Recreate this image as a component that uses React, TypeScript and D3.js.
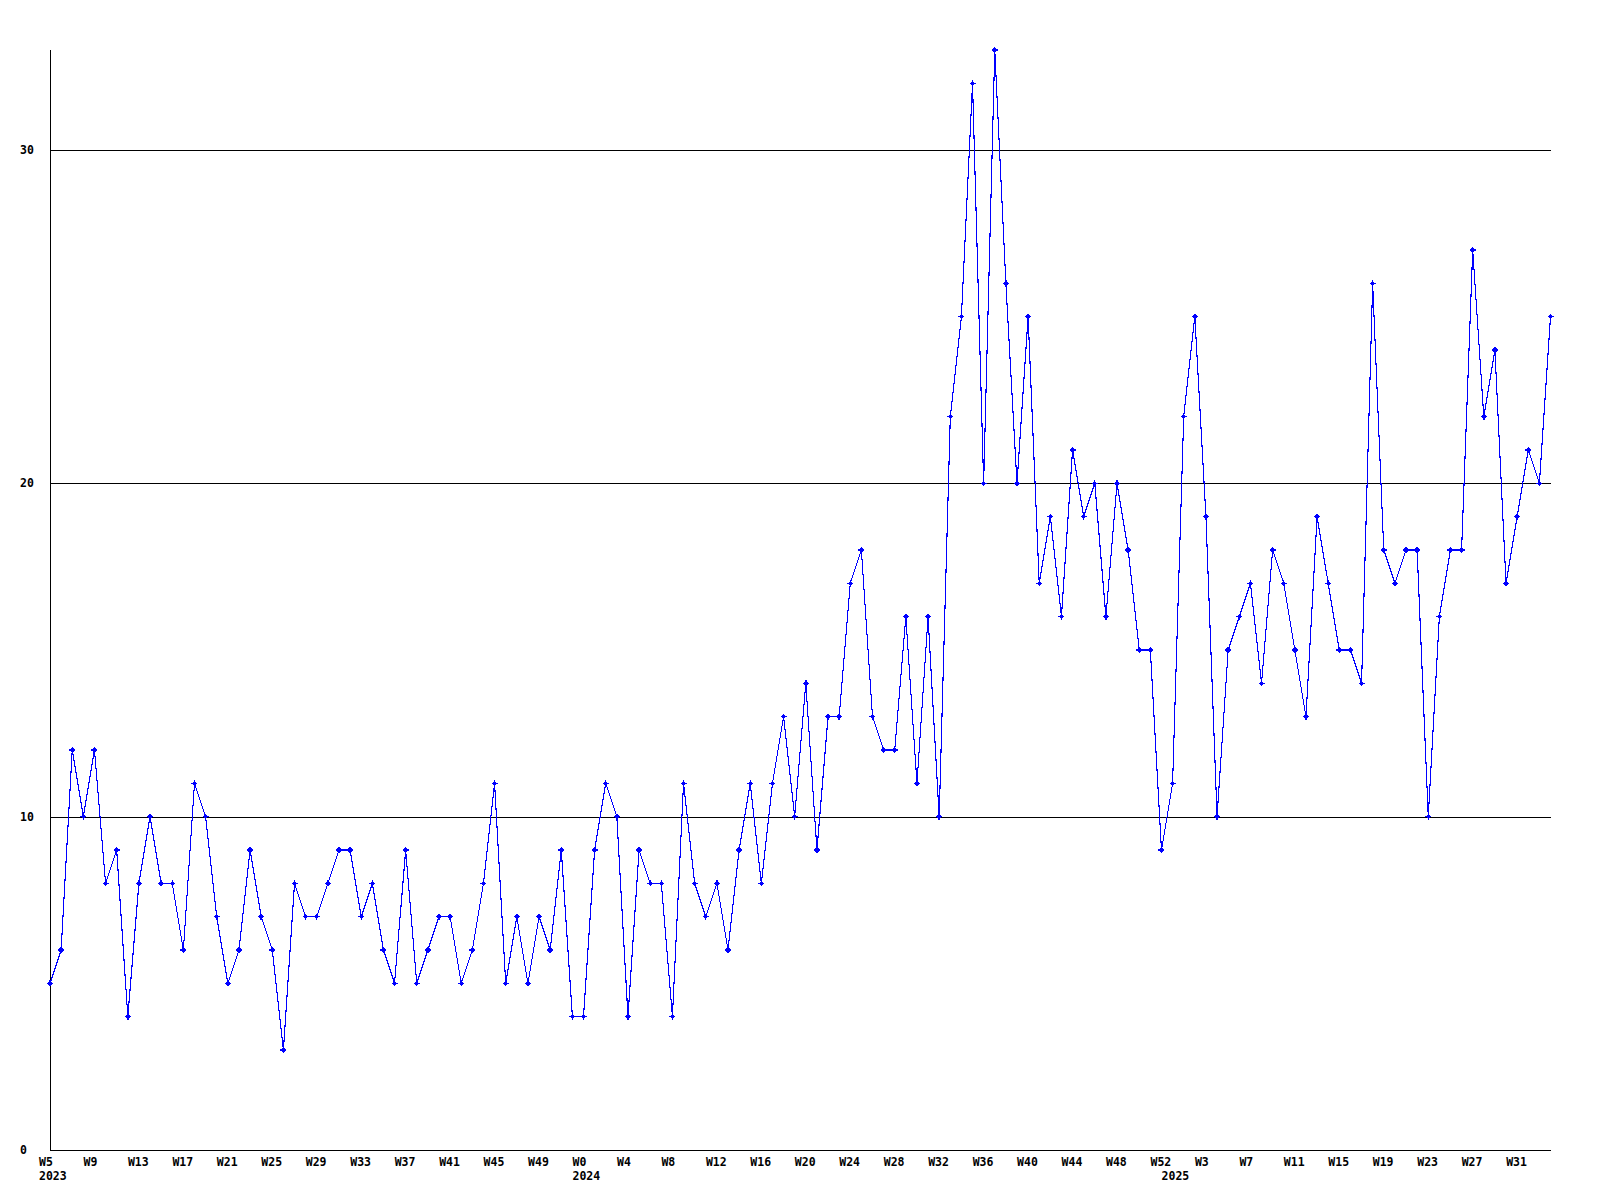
import React from "react";
import * as d3 from "d3";

// Weekly counts, 2023 W5 .. 2025 W34
const values: number[] = [
  5, 6, 12, 10, 12, 8, 9, 4, 8, 10,
  8, 8, 6, 11, 10, 7, 5, 6, 9, 7,
  6, 3, 8, 7, 7, 8, 9, 9, 7, 8,
  6, 5, 9, 5, 6, 7, 7, 5, 6, 8,
  11, 5, 7, 5, 7, 6, 9, 4, 4, 9,
  11, 10, 4, 9, 8, 8, 4, 11, 8, 7,
  8, 6, 9, 11, 8, 11, 13, 10, 14, 9,
  13, 13, 17, 18, 13, 12, 12, 16, 11, 16,
  10, 22, 25, 32, 20, 33, 26, 20, 25, 17,
  19, 16, 21, 19, 20, 16, 20, 18, 15, 15,
  9, 11, 22, 25, 19, 10, 15, 16, 17, 14,
  18, 17, 15, 13, 19, 17, 15, 15, 14, 26,
  18, 17, 18, 18, 10, 16, 18, 18, 27, 22,
  24, 17, 19, 21, 20, 25,
];

const years = ["2023", "2024", "2025"];
const weeks2023 = d3.range(5, 53);
const weeks2024 = d3.range(0, 53);
const weeks2025 = d3.range(0, 35);
const yTicks = [0, 10, 20, 30];
const yMax = 33;

type Cat = { week: number; year: string; first: boolean };
const cats: Cat[] = [
  ...weeks2023.map((w, i) => ({ week: w, year: years[0], first: i === 0 })),
  ...weeks2024.map((w, i) => ({ week: w, year: years[1], first: i === 0 })),
  ...weeks2025.map((w, i) => ({ week: w, year: years[2], first: i === 0 })),
];

const LEFT = 50;
const RIGHT = 1550.5;
const TOP = 50;
const BOTTOM = 1150;

const font = "'DejaVu Sans Mono', 'Liberation Mono', monospace";

export default function App() {
  const x = d3.scaleLinear().domain([0, values.length - 1]).range([LEFT, RIGHT]);
  const y = d3.scaleLinear().domain([0, yMax]).range([BOTTOM, TOP]);
  const line = d3
    .line<number>()
    .x((_, i) => x(i))
    .y((d) => y(d));

  const marker =
    "M-3,-0.7h6v1.4h-6z M-0.7,-3h1.4v6h-1.4z M-1.7,-1.7h3.4v3.4h-3.4z";

  return (
    <svg
      width={1600}
      height={1200}
      style={{ position: "absolute", left: 0, top: 0, background: "#fff" }}
    >
      <rect x={0} y={0} width={1600} height={1200} fill="#fff" />
      {yTicks
        .filter((t) => t > 0)
        .map((t) => (
          <line
            key={"g" + t}
            x1={LEFT}
            x2={RIGHT}
            y1={Math.round(y(t)) + 0.5}
            y2={Math.round(y(t)) + 0.5}
            stroke="#000"
            strokeWidth={1}
            shapeRendering="crispEdges"
          />
        ))}
      <line
        x1={LEFT + 0.5}
        x2={LEFT + 0.5}
        y1={TOP}
        y2={BOTTOM}
        stroke="#000"
        shapeRendering="crispEdges"
      />
      <line
        x1={LEFT}
        x2={RIGHT}
        y1={BOTTOM + 0.5}
        y2={BOTTOM + 0.5}
        stroke="#000"
        shapeRendering="crispEdges"
      />
      {yTicks.map((t) => (
        <text
          key={"y" + t}
          x={20}
          y={y(t) + 4}
          fontFamily={font}
          fontWeight="bold"
          fontSize={11.5}
          fill="#000"
        >
          {t}
        </text>
      ))}
      {cats.map((c, i) =>
        i % 4 === 0 ? (
          <text
            key={"x" + i}
            x={x(i) - 11}
            y={1166}
            fontFamily={font}
            fontWeight="bold"
            fontSize={11.5}
            fill="#000"
          >
            {"W" + c.week}
          </text>
        ) : null
      )}
      {cats.map((c, i) =>
        c.first ? (
          <text
            key={"yr" + i}
            x={x(i) - 11}
            y={1180}
            fontFamily={font}
            fontWeight="bold"
            fontSize={11.5}
            fill="#000"
          >
            {c.year}
          </text>
        ) : null
      )}
      <path
        d={line(values) || ""}
        fill="none"
        stroke="#0000ff"
        strokeWidth={1.1}
        shapeRendering="crispEdges"
      />
      {values.map((v, i) => (
        <path
          key={"m" + i}
          d={marker}
          transform={`translate(${x(i)},${y(v)})`}
          fill="#0000ff"
          shapeRendering="crispEdges"
        />
      ))}
    </svg>
  );
}
